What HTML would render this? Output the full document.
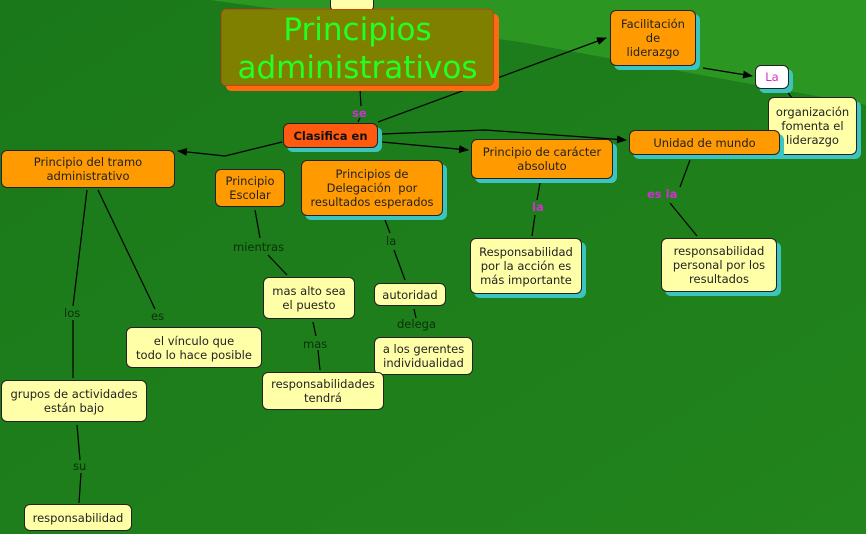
<!DOCTYPE html>
<html><head><meta charset="utf-8"><style>
body{margin:0;width:866px;height:534px;overflow:hidden;position:relative;font-family:"DejaVu Sans","Liberation Sans",sans-serif;}
.n{position:absolute;box-sizing:border-box;border:1px solid #222;border-radius:6px;display:flex;align-items:center;justify-content:center;text-align:center;font-size:11.5px;line-height:14px;color:#222;box-shadow:4px 4px 0 #3cc4c0;}
.o{background:#ff9a00;}
.y{background:#ffffa8;}
.l{position:absolute;font-size:11.5px;color:#0a300a;}
.p{position:absolute;font-size:11.5px;color:#d030d0;font-weight:bold;}
</style></head><body>
<svg width="866" height="534" style="position:absolute;left:0;top:0">
<defs><linearGradient id="g" x1="0" y1="0" x2="1" y2="1"><stop offset="0" stop-color="#1a781a"/><stop offset="1" stop-color="#22841c"/></linearGradient>
<marker id="a" markerWidth="10" markerHeight="8" refX="9" refY="4" orient="auto" markerUnits="userSpaceOnUse"><path d="M0,0L10,4L0,8z" fill="#000"/></marker></defs>
<rect width="866" height="534" fill="url(#g)"/>
<polygon points="210,0 866,0 866,105 520,42" fill="#2c9622"/>
<g stroke="#000" stroke-width="1.2" fill="none">
<line x1="360" y1="88" x2="361" y2="106"/><line x1="360" y1="118" x2="358" y2="122"/>
<line x1="378" y1="122" x2="606" y2="38" marker-end="url(#a)"/>
<line x1="703" y1="68" x2="752" y2="76" marker-end="url(#a)"/>
<line x1="786" y1="90" x2="792" y2="98"/>
<polyline points="382,134 485,130 626,140" marker-end="url(#a)"/>
<line x1="382" y1="142" x2="468" y2="150" marker-end="url(#a)"/>
<polyline points="282,142 225,156 178,151" marker-end="url(#a)"/>
<line x1="690" y1="160" x2="680" y2="187"/><line x1="670" y1="203" x2="697" y2="236"/>
<line x1="540" y1="183" x2="537" y2="200"/><line x1="535" y1="215" x2="532" y2="236"/>
<line x1="87" y1="190" x2="73" y2="306"/><line x1="73" y1="320" x2="73" y2="378"/>
<line x1="98" y1="190" x2="155" y2="309"/>
<line x1="255" y1="210" x2="260" y2="238"/><line x1="268" y1="255" x2="287" y2="275"/>
<line x1="313" y1="322" x2="316" y2="336"/><line x1="318" y1="350" x2="320" y2="370"/>
<line x1="385" y1="220" x2="390" y2="233"/><line x1="394" y1="250" x2="405" y2="280"/>
<line x1="414" y1="309" x2="416" y2="318"/>
<line x1="77" y1="425" x2="80" y2="460"/><line x1="81" y1="473" x2="79" y2="503"/>
</g></svg>
<div style="position:absolute;left:330px;top:-6px;width:42px;height:16px;background:#ffffa8;border:1px solid #222;border-radius:6px"></div>
<div style="position:absolute;left:226px;top:14px;width:273px;height:77px;background:#ff6a10;border-radius:5px"></div>
<div style="position:absolute;left:221px;top:9px;width:273px;height:77px;box-sizing:border-box;background:#808000;border:1px solid #d04010;border-radius:5px;color:#22ff22;font-size:31px;line-height:38px;text-align:center;padding-top:1px">Principios<br>administrativos</div>
<div class="n" style="left:283px;top:123px;width:95px;height:25px;background:#ff5a10;font-weight:bold;color:#111">Clasifica en</div>
<div class="n o" style="left:610px;top:10px;width:86px;height:56px">Facilitación<br>de<br>liderazgo</div>
<div class="n" style="left:755px;top:65px;width:34px;height:24px;background:#fff;color:#d030d0">La</div>
<div class="n y" style="left:768px;top:97px;width:89px;height:58px">organización<br>fomenta el<br>liderazgo</div>
<div class="n o" style="left:629px;top:130px;width:151px;height:25px">Unidad de mundo</div>
<div class="n o" style="left:471px;top:139px;width:142px;height:40px">Principio de carácter<br>absoluto</div>
<div class="n o" style="left:1px;top:150px;width:174px;height:38px;box-shadow:none">Principio del tramo<br>administrativo</div>
<div class="n o" style="left:215px;top:169px;width:70px;height:38px;box-shadow:none">Principio<br>Escolar</div>
<div class="n o" style="left:301px;top:160px;width:142px;height:56px">Principios de<br>Delegación &nbsp;por<br>resultados esperados</div>
<div class="n y" style="left:470px;top:238px;width:112px;height:56px">Responsabilidad<br>por la acción es<br>más importante</div>
<div class="n y" style="left:661px;top:238px;width:116px;height:54px">responsabilidad<br>personal por los<br>resultados</div>
<div class="n y" style="left:263px;top:277px;width:92px;height:42px;box-shadow:none">mas alto sea<br>el puesto</div>
<div class="n y" style="left:374px;top:283px;width:72px;height:23px;box-shadow:none">autoridad</div>
<div class="n y" style="left:126px;top:327px;width:136px;height:41px;box-shadow:none">el vínculo que<br>todo lo hace posible</div>
<div class="n y" style="left:374px;top:337px;width:99px;height:38px;box-shadow:none">a los gerentes<br>individualidad</div>
<div class="n y" style="left:262px;top:372px;width:122px;height:38px;box-shadow:none">responsabilidades<br>tendrá</div>
<div class="n y" style="left:1px;top:380px;width:146px;height:42px;box-shadow:none">grupos de actividades<br>están bajo</div>
<div class="n y" style="left:24px;top:504px;width:108px;height:27px;box-shadow:none">responsabilidad</div>
<div class="p" style="left:352px;top:106px">se</div>
<div class="p" style="left:532px;top:200px">la</div>
<div class="p" style="left:647px;top:187px">es la</div>
<div class="l" style="left:233px;top:240px">mientras</div>
<div class="l" style="left:386px;top:234px">la</div>
<div class="l" style="left:64px;top:306px">los</div>
<div class="l" style="left:151px;top:309px">es</div>
<div class="l" style="left:303px;top:337px">mas</div>
<div class="l" style="left:397px;top:317px">delega</div>
<div class="l" style="left:73px;top:459px">su</div>
</body></html>
